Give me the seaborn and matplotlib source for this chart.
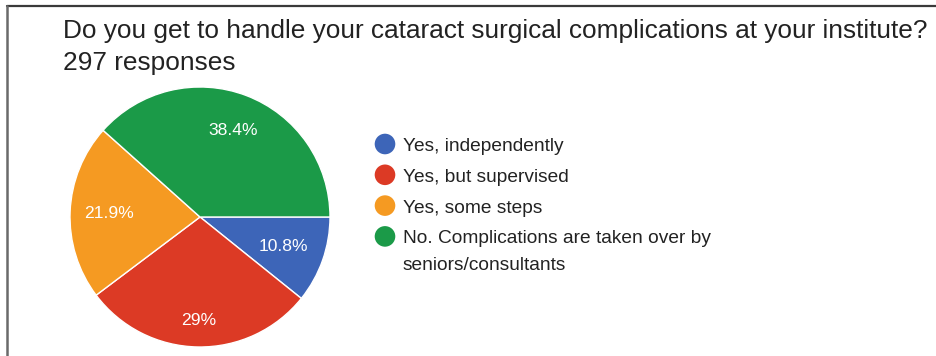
import matplotlib
matplotlib.use("Agg")
import matplotlib.pyplot as plt
import seaborn as sns
import numpy as np
from matplotlib.lines import Line2D

# ---- data ----
categories = ["Yes, independently", "Yes, but supervised", "Yes, some steps",
              "No. Complications are taken over by\nseniors/consultants"]
counts = [32, 86, 65, 114]
pct_labels = ["10.8%", "29%", "21.9%", "38.4%"]
title = "Do you get to handle your cataract surgical complications at your institute?"
subtitle = "297 responses"

# ---- style ----
colors = ["#3d65b8", "#dc3a25", "#f59a22", "#1b9a48"]
label_dist = [0.68, 0.80, 0.70, 0.71]

sns.set_theme(style="white")
plt.rcParams["font.family"] = ["Liberation Sans", "DejaVu Sans"]

W, H = 937, 356
fig = plt.figure(figsize=(W / 100, H / 100), dpi=100)
fig.patch.set_facecolor("white")

# overlay axes in pixel coordinates for text/legend/border
ov = fig.add_axes([0, 0, 1, 1])
ov.set_xlim(0, W)
ov.set_ylim(H, 0)
ov.axis("off")

# border (top and left)
ov.add_line(Line2D([7.5, W], [6, 6], color="#3a3a3a", lw=1.6))
ov.add_line(Line2D([7.5, 7.5], [6, H], color="#6a6a6a", lw=1.8))

# title
ov.text(63, 38, title, fontsize=18.9, color="#222222", va="baseline", ha="left")
ov.text(63, 70, subtitle, fontsize=18.9, color="#222222", va="baseline", ha="left")

# pie
cx, cy, r = 200, 217, 130
pie_ax = fig.add_axes([(cx - r) / W, (H - cy - r) / H, 2 * r / W, 2 * r / H])
wedges, texts = pie_ax.pie(counts, colors=colors, startangle=0, counterclock=False,
                           wedgeprops=dict(edgecolor="white", linewidth=1.0),
                           labels=pct_labels, labeldistance=0.7,
                           textprops=dict(color="white", fontsize=12.6, ha="center", va="center"))
for w, t, d in zip(wedges, texts, label_dist):
    ang = np.deg2rad((w.theta1 + w.theta2) / 2)
    t.set_position((d * np.cos(ang), d * np.sin(ang)))
    t.set_ha("center")
    t.set_va("center")
pie_ax.set_xlim(-1, 1)
pie_ax.set_ylim(-1, 1)
pie_ax.set_aspect("auto")
pie_ax.axis("off")

# legend
y0, step, lx, tx, line_step = 144, 30.8, 385, 403, 27
for i, (cat, col) in enumerate(zip(categories, colors)):
    y = y0 + i * step
    ov.scatter([lx], [y], s=220, color=col, edgecolor="none", zorder=3)
    for j, line in enumerate(cat.split("\n")):
        ov.text(tx, y + 7 + j * line_step, line, fontsize=13.8, color="#222222",
                ha="left", va="baseline")

fig.savefig("out.png", dpi=100, facecolor="white")
